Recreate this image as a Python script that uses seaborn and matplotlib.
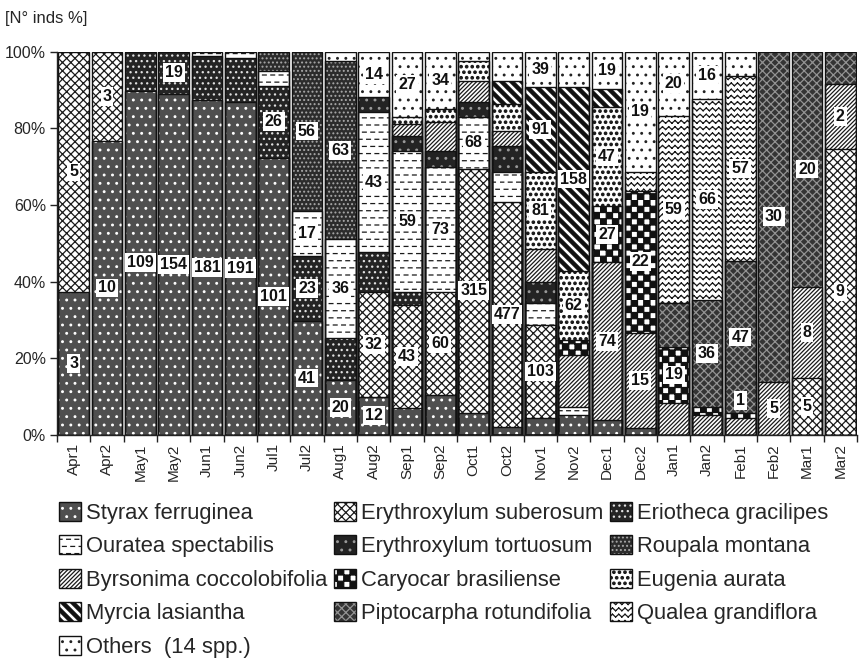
import warnings
warnings.filterwarnings("ignore")
import numpy as np
import pandas as pd
import matplotlib
matplotlib.use("Agg")
import matplotlib.pyplot as plt
import matplotlib.hatch as mhatch
from matplotlib.path import Path
from matplotlib.patches import Patch
from matplotlib.legend_handler import HandlerTuple
import seaborn as sns

# ---------------- data ----------------
SF = "Styrax ferruginea"
OS = "Ouratea spectabilis"
BC = "Byrsonima coccolobifolia"
ML = "Myrcia lasiantha"
OT = "Others  (14 spp.)"
ES = "Erythroxylum suberosum"
ET = "Erythroxylum tortuosum"
CB = "Caryocar brasiliense"
PR = "Piptocarpha rotundifolia"
EG = "Eriotheca gracilipes"
RM = "Roupala montana"
EA = "Eugenia aurata"
QG = "Qualea grandiflora"

species = [SF, OS, BC, ML, OT, ES, ET, CB, PR, EG, RM, EA, QG]

months = ["Apr1", "Apr2", "May1", "May2", "Jun1", "Jun2", "Jul1", "Jul2",
          "Aug1", "Aug2", "Sep1", "Sep2", "Oct1", "Oct2", "Nov1", "Nov2",
          "Dec1", "Dec2", "Jan1", "Jan2", "Feb1", "Feb2", "Mar1", "Mar2"]

# segments bottom -> top: (species, upper boundary in %, count label)
APR1 = [(SF, 37.2, "3"), (ES, 100, "5")]
APR2 = [(SF, 76.7, "10"), (ES, 100, "3")]
MAY1 = [(SF, 89.8, "109"), (EG, 100, None)]
MAY2 = [(SF, 89.0, "154"), (EG, 100, "19")]
JUN1 = [(SF, 87.3, "181"), (EG, 98.8, None), (OS, 100, None)]
JUN2 = [(SF, 86.9, "191"), (EG, 98.3, None), (OS, 100, None)]
JUL1 = [(SF, 72.3, "101"), (EG, 91.1, "26"), (OS, 94.8, None), (RM, 100, None)]
JUL2 = [(SF, 29.7, "41"), (EG, 46.7, "23"), (OS, 58.5, "17"), (RM, 100, "56")]
AUG1 = [(SF, 14.4, "20"), (EG, 25.4, None), (OS, 51.0, "36"), (RM, 97.4, "63"),
        (OT, 100, None)]
AUG2 = [(SF, 10.0, "12"), (ES, 37.2, "32"), (EG, 47.6, None), (OS, 84.3, "43"),
        (ET, 88.1, None), (OT, 100, "14")]
SEP1 = [(SF, 7.0, None), (ES, 34.0, "43"), (EG, 37.2, None), (OS, 74.0, "59"),
        (ET, 78.0, None), (BC, 81.2, None), (EA, 83.0, None), (OT, 100, "27")]
SEP2 = [(SF, 10.5, None), (ES, 37.4, "60"), (OS, 70.0, "73"), (ET, 74.0, None),
        (BC, 81.6, None), (EA, 85.0, None), (OT, 100, "34")]
OCT1 = [(SF, 5.8, None), (ES, 69.4, "315"), (OS, 83.0, "68"), (ET, 86.9, None),
        (BC, 92.4, None), (EA, 97.6, None), (OT, 100, None)]
OCT2 = [(SF, 2.1, None), (ES, 60.7, "477"), (OS, 68.6, None), (ET, 75.4, None),
        (BC, 79.3, None), (EA, 86.4, None), (ML, 92.4, None), (OT, 100, None)]
NOV1 = [(SF, 4.5, None), (ES, 28.8, "103"), (OS, 34.5, None), (ET, 39.8, None),
        (BC, 48.4, None), (EA, 68.6, "81"), (ML, 90.8, "91"), (OT, 100, "39")]
NOV2 = [(SF, 5.2, None), (OS, 7.3, None), (BC, 20.9, None), (CB, 24.9, None),
        (EA, 42.7, "62"), (ML, 90.8, "158"), (OT, 100, None)]
DEC1 = [(SF, 3.9, None), (BC, 45.0, "74"), (CB, 59.7, "27"), (EA, 85.6, "47"),
        (ML, 90.3, None), (OT, 100, "19")]
DEC2 = [(SF, 1.8, None), (BC, 26.7, "15"), (CB, 63.6, "22"), (QG, 68.6, None),
        (OT, 100, "19")]
JAN1 = [(BC, 8.3, None), (CB, 23.0, "19"), (PR, 34.5, None), (QG, 83.2, "59"),
        (OT, 100, "20")]
JAN2 = [(BC, 5.2, None), (CB, 7.3, None), (PR, 35.3, "36"), (QG, 87.7, "66"),
        (OT, 100, "16")]
FEB1 = [(BC, 4.5, None), (CB, 5.8, "1"), (PR, 45.3, "47"), (QG, 93.7, "57"),
        (OT, 100, None)]
FEB2 = [(BC, 13.9, "5"), (PR, 100, "30")]
MAR1 = [(ES, 14.9, "5"), (BC, 38.7, "8"), (PR, 100, "20")]
MAR2 = [(ES, 74.6, "9"), (BC, 91.6, "2"), (PR, 100, None)]

month_segments = [APR1, APR2, MAY1, MAY2, JUN1, JUN2, JUL1, JUL2, AUG1, AUG2,
                  SEP1, SEP2, OCT1, OCT2, NOV1, NOV2, DEC1, DEC2, JAN1, JAN2,
                  FEB1, FEB2, MAR1, MAR2]

# ---------------- custom hatch patterns ----------------
class _Custom(mhatch.HatchPatternBase):
    char = "?"

    def __init__(self, hatch, density):
        n = hatch.count(self.char) if hatch else 0
        if n:
            v, c = self.build(n)
            self.verts = np.asarray(v, float)
            self.codes_ = np.asarray(c, dtype=Path.code_type)
        else:
            self.verts = np.empty((0, 2))
            self.codes_ = np.empty(0, dtype=Path.code_type)
        self.num_vertices = len(self.verts)

    def set_vertices_and_codes(self, vertices, codes):
        vertices[:] = self.verts
        codes[:] = self.codes_


class Dashes(_Custom):
    char = "d"

    def build(self, n):
        rows, per = 7 * n, 6 * n
        v, c = [], []
        for r in range(rows):
            y = (r + 0.5) / rows
            shift = 0.5 if r % 2 else 0.0
            for j in range(per):
                x0 = (j + shift) / per
                x1 = x0 + 0.45 / per
                v += [(x0, y), (x1, y)]
                c += [Path.MOVETO, Path.LINETO]
        return v, c


class Wave(_Custom):
    char = "w"

    def build(self, n):
        rows, periods = 8 * n, 8 * n
        a = 0.22 / rows
        v, c = [], []
        xs = np.linspace(0, 1, 2 * periods + 1)
        for r in range(rows):
            y = (r + 0.5) / rows
            ys = y + a * np.where(np.arange(len(xs)) % 2 == 0, 1, -1)
            for k in range(len(xs) - 1):
                v += [(xs[k], ys[k]), (xs[k + 1], ys[k + 1])]
                c += [Path.MOVETO, Path.LINETO]
        return v, c


class Checker(_Custom):
    char = "c"

    def build(self, n):
        cells = 8 * n
        v, c = [], []
        for i in range(cells):
            for j in range(cells):
                if (i + j) % 2 == 0:
                    x0, y0 = i / cells, j / cells
                    x1, y1 = (i + 1) / cells, (j + 1) / cells
                    v += [(x0, y0), (x1, y0), (x1, y1), (x0, y1), (x0, y0)]
                    c += [Path.MOVETO, Path.LINETO, Path.LINETO, Path.LINETO,
                          Path.CLOSEPOLY]
        return v, c


class Stripes(_Custom):
    char = "m"

    def build(self, n):
        m = 5 * n
        w = 0.45 / m
        v, c = [], []
        for i in range(-2, 2 * m + 3):
            c1 = i / m - w / 2
            c2 = i / m + w / 2
            v += [(c1 + 1, -1), (c2 + 1, -1), (c2 - 2, 2), (c1 - 2, 2), (c1 + 1, -1)]
            c += [Path.MOVETO, Path.LINETO, Path.LINETO, Path.LINETO, Path.CLOSEPOLY]
        return v, c


class Blobs(mhatch.Circles):
    size = 0.22
    filled = True

    def __init__(self, hatch, density):
        self.num_rows = (hatch.count("e") if hatch else 0) * density
        super().__init__(hatch, density)


mhatch._hatch_types.extend([Dashes, Wave, Checker, Stripes, Blobs])

# ---------------- styles ----------------
STYLE = {
    SF: ("#4f4f4f", "..", "white"),
    OS: ("white", "dd", "#1a1a1a"),
    BC: ("white", "/" * 8, "#1a1a1a"),
    ML: ("white", "mm", "#111111"),
    OT: ("white", "..", "#222222"),
    ES: ("white", "xxxx", "#1a1a1a"),
    ET: ("#232323", "..", "#9a9a9a"),
    CB: ("white", "cc", "#111111"),
    PR: ("#343434", "xxxx", "#939393"),
    EG: ("#242424", "...", "#e0e0e0"),
    RM: ("#2c2c2c", "....", "#a8a8a8"),
    EA: ("white", "eee", "#1a1a1a"),
    QG: ("white", "ww", "#1a1a1a"),
}

# ---------------- build long table ----------------
rows = []
for mname, segs in zip(months, month_segments):
    bottom = 0.0
    n = len(segs)
    for k, (sp, top, lab) in enumerate(segs):
        rows.append(dict(month=mname, species=sp, bottom=bottom, top=top,
                         label=lab, level=n - 1 - k))
        bottom = top
df = pd.DataFrame(rows)

# ---------------- plot ----------------
sns.set_style("ticks")
plt.rcParams["font.family"] = ["Liberation Sans", "DejaVu Sans"]
plt.rcParams["hatch.linewidth"] = 0.9

fig = plt.figure(figsize=(8.59, 6.65), dpi=100)
ax = fig.add_axes([57 / 859, 230 / 665, 800 / 859, 383.5 / 665])

BAR_W = 0.92
nlev = int(df.level.max()) + 1
for lev in range(nlev):
    sub = df[df.level == lev]
    n0 = len(ax.patches)
    sns.barplot(data=sub, x="month", y="top", order=months, errorbar=None,
                width=BAR_W, color="white", saturation=1, linewidth=0, ax=ax)
    for p in ax.patches[n0:]:
        i = int(round(p.get_x() + p.get_width() / 2))
        hit = sub[sub.month == months[i]]
        if hit.empty:
            p.set_visible(False)
            continue
        face, hatch, hc = STYLE[hit.iloc[0].species]
        p.set_facecolor(face)
        p.set_edgecolor(hc)
        p.set_hatch(hatch)
        p.set_linewidth(0)

# outlines (segment boundaries)
for lev in range(nlev):
    sub = df[df.level == lev]
    n0 = len(ax.patches)
    sns.barplot(data=sub, x="month", y="top", order=months, errorbar=None,
                width=BAR_W, fill=False, color="#111111", linewidth=1.0, ax=ax)
    for p in ax.patches[n0:]:
        p.set_facecolor("none")
        p.set_edgecolor("#111111")
        p.set_linewidth(1.0)

# count labels
for _, r in df.dropna(subset=["label"]).iterrows():
    i = months.index(r.month)
    h = r.top - r.bottom
    y = (r.top + r.bottom) / 2 if h >= 3 else r.top + 3.2
    ax.text(i, y, r.label, ha="center", va="center", fontsize=11.5,
            fontweight="bold", color="#111111", zorder=5,
            bbox=dict(boxstyle="square,pad=0.12", fc="white", ec="none"))

ax.set_xlim(-0.47, len(months) - 0.53)
ax.set_ylim(0, 100)
ax.set_xlabel("")
ax.set_ylabel("")
ax.set_yticks([0, 20, 40, 60, 80, 100])
ax.set_yticklabels(["0%", "20%", "40%", "60%", "80%", "100%"], fontsize=11.5)
ax.set_xticks(range(len(months)))
ax.set_xticklabels(months, rotation=90, fontsize=11)
ax.set_xticks(np.arange(-0.5, len(months), 1), minor=True)
ax.tick_params(axis="x", which="major", length=0, pad=6)
ax.tick_params(axis="x", which="minor", length=5, width=1, color="#222222")
ax.tick_params(axis="y", length=5, width=1, color="#222222", pad=3)
sns.despine(ax=ax, top=True, right=True)
for s in ["left", "bottom"]:
    ax.spines[s].set_color("#222222")
    ax.spines[s].set_linewidth(1.0)

fig.text(5 / 859, 1 - 18 / 665, "[N° inds %]", ha="left", va="center",
         fontsize=12)

# legend
handles = []
for sp in species:
    face, hatch, hc = STYLE[sp]
    fillp = Patch(facecolor=face, edgecolor=hc, hatch=hatch, linewidth=0)
    outl = Patch(facecolor="none", edgecolor="#111111", linewidth=1.0)
    handles.append((fillp, outl))
fig.legend(handles, species, ncol=3, loc="upper left",
           bbox_to_anchor=(59 / 859, 1 - 502 / 665), frameon=False,
           fontsize=15.8, handlelength=1.0, handleheight=0.95,
           handletextpad=0.25, columnspacing=0.28, labelspacing=0.52,
           borderpad=0, borderaxespad=0,
           handler_map={tuple: HandlerTuple(ndivide=1, pad=0)})

fig.savefig("out.png", dpi=100)
